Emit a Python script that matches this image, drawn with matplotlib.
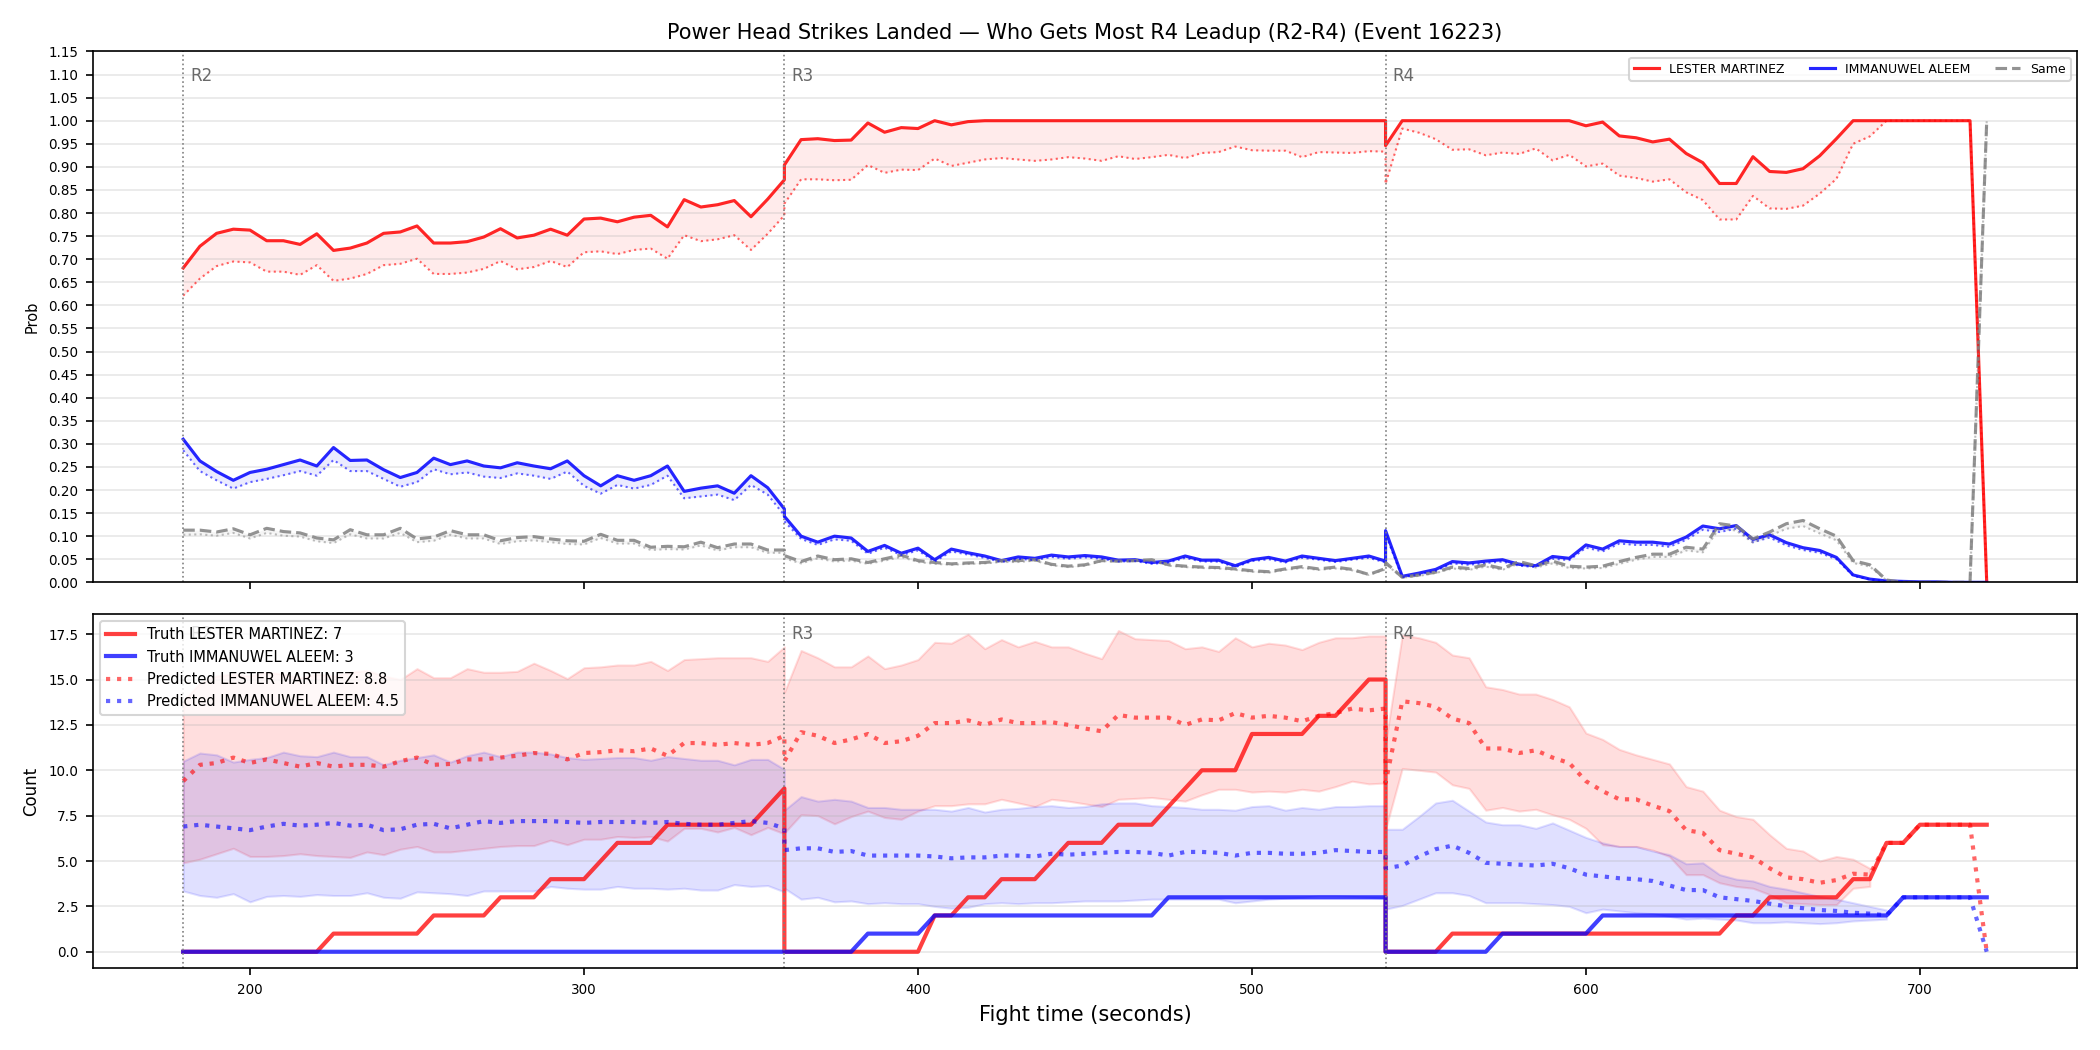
import numpy as np
import matplotlib
matplotlib.use("Agg")
import matplotlib.pyplot as plt

# sample times: each round R2..R4 sampled every 5 s, boundary time repeated
t = np.concatenate([np.arange(180, 361, 5), np.arange(360, 541, 5), np.arange(540, 721, 5)])

name_a = "LESTER MARTINEZ"
name_b = "IMMANUWEL ALEEM"
rounds = [(180, "R2"), (360, "R3"), (540, "R4")]

# --- top panel: win probability (solid) and lower estimate (dotted)
prob_a = [0.681, 0.728, 0.756, 0.765, 0.763, 0.740, 0.740, 0.732, 0.755, 0.719, 0.724, 0.735, 0.756, 0.759, 0.772, 0.735, 0.735, 0.738, 0.748, 0.766, 0.746, 0.752, 0.765, 0.752, 0.787, 0.789, 0.781, 0.791, 0.795, 0.770, 0.829, 0.813, 0.818, 0.827, 0.792, 0.830, 0.872,
          0.904, 0.959, 0.961, 0.957, 0.958, 0.995, 0.975, 0.985, 0.983, 1.0, 0.991, 0.998, 1.0, 1.0, 1.0, 1.0, 1.0, 1.0, 1.0, 1.0, 1.0, 1.0, 1.0, 1.0, 1.0, 1.0, 1.0, 1.0, 1.0, 1.0, 1.0, 1.0, 1.0, 1.0, 1.0, 1.0, 1.0,
          0.946, 1.0, 1.0, 1.0, 1.0, 1.0, 1.0, 1.0, 1.0, 1.0, 1.0, 1.0, 0.989, 0.997, 0.967, 0.963, 0.954, 0.960, 0.929, 0.909, 0.864, 0.864, 0.922, 0.890, 0.888, 0.896, 0.924, 0.961, 1.0, 1.0, 1.0, 1.0, 1.0, 1.0, 1.0, 1.0, 0.0]
prob_a_lo = [0.621, 0.658, 0.685, 0.695, 0.693, 0.673, 0.673, 0.666, 0.687, 0.653, 0.658, 0.668, 0.687, 0.690, 0.701, 0.668, 0.668, 0.671, 0.679, 0.696, 0.678, 0.683, 0.696, 0.683, 0.715, 0.717, 0.711, 0.720, 0.723, 0.701, 0.752, 0.739, 0.743, 0.752, 0.720, 0.755, 0.795,
             0.820, 0.873, 0.873, 0.871, 0.872, 0.904, 0.887, 0.894, 0.893, 0.918, 0.902, 0.909, 0.916, 0.919, 0.916, 0.913, 0.916, 0.921, 0.918, 0.913, 0.923, 0.917, 0.921, 0.926, 0.919, 0.930, 0.932, 0.944, 0.936, 0.935, 0.935, 0.921, 0.932, 0.931, 0.930, 0.934, 0.933,
             0.863, 0.983, 0.974, 0.960, 0.937, 0.938, 0.925, 0.931, 0.928, 0.940, 0.914, 0.926, 0.901, 0.907, 0.881, 0.876, 0.868, 0.873, 0.845, 0.828, 0.786, 0.786, 0.837, 0.810, 0.809, 0.816, 0.842, 0.874, 0.950, 0.966, 1.0, 1.0, 1.0, 1.0, 1.0, 1.0, 0.0]
prob_b = [0.310, 0.263, 0.240, 0.221, 0.238, 0.245, 0.255, 0.265, 0.252, 0.292, 0.264, 0.265, 0.244, 0.227, 0.238, 0.269, 0.255, 0.263, 0.252, 0.248, 0.259, 0.252, 0.246, 0.263, 0.231, 0.209, 0.231, 0.221, 0.231, 0.252, 0.197, 0.204, 0.209, 0.193, 0.231, 0.205, 0.159,
          0.143, 0.100, 0.087, 0.100, 0.096, 0.067, 0.080, 0.063, 0.074, 0.049, 0.072, 0.064, 0.057, 0.047, 0.055, 0.052, 0.059, 0.055, 0.058, 0.055, 0.048, 0.049, 0.043, 0.046, 0.057, 0.048, 0.048, 0.036, 0.049, 0.054, 0.046, 0.057, 0.052, 0.047, 0.052, 0.057, 0.046,
          0.112, 0.013, 0.020, 0.028, 0.045, 0.042, 0.046, 0.049, 0.039, 0.036, 0.056, 0.052, 0.081, 0.072, 0.090, 0.087, 0.087, 0.083, 0.098, 0.122, 0.116, 0.123, 0.093, 0.103, 0.086, 0.075, 0.069, 0.054, 0.016, 0.007, 0.003, 0.002, 0.001, 0.001, 0.0, 0.0, 0.0]
prob_b_lo = [0.286, 0.241, 0.221, 0.203, 0.217, 0.224, 0.232, 0.241, 0.231, 0.265, 0.241, 0.241, 0.224, 0.207, 0.217, 0.245, 0.234, 0.238, 0.229, 0.226, 0.236, 0.231, 0.224, 0.240, 0.209, 0.192, 0.211, 0.203, 0.211, 0.231, 0.182, 0.186, 0.190, 0.178, 0.211, 0.190, 0.145,
             0.132, 0.094, 0.081, 0.093, 0.090, 0.062, 0.075, 0.059, 0.069, 0.045, 0.067, 0.060, 0.053, 0.044, 0.051, 0.048, 0.055, 0.051, 0.054, 0.051, 0.045, 0.046, 0.040, 0.043, 0.053, 0.045, 0.045, 0.033, 0.046, 0.050, 0.043, 0.053, 0.049, 0.044, 0.049, 0.053, 0.043,
             0.104, 0.011, 0.017, 0.025, 0.041, 0.038, 0.042, 0.045, 0.036, 0.033, 0.051, 0.048, 0.075, 0.067, 0.084, 0.081, 0.081, 0.077, 0.092, 0.114, 0.109, 0.116, 0.087, 0.097, 0.080, 0.070, 0.064, 0.050, 0.014, 0.006, 0.002, 0.001, 0.0, 0.0, 0.0, 0.0, 0.0]
prob_same = [0.113, 0.113, 0.109, 0.116, 0.103, 0.117, 0.110, 0.107, 0.096, 0.092, 0.114, 0.103, 0.103, 0.117, 0.094, 0.098, 0.112, 0.103, 0.103, 0.090, 0.097, 0.099, 0.094, 0.090, 0.089, 0.104, 0.091, 0.091, 0.076, 0.078, 0.077, 0.087, 0.075, 0.083, 0.083, 0.070, 0.070,
             0.058, 0.045, 0.057, 0.049, 0.051, 0.043, 0.051, 0.059, 0.047, 0.043, 0.040, 0.042, 0.043, 0.047, 0.047, 0.049, 0.039, 0.035, 0.038, 0.047, 0.046, 0.047, 0.049, 0.038, 0.035, 0.033, 0.032, 0.029, 0.025, 0.023, 0.029, 0.034, 0.029, 0.033, 0.028, 0.017, 0.030,
             0.043, 0.011, 0.016, 0.022, 0.033, 0.030, 0.038, 0.030, 0.045, 0.036, 0.046, 0.035, 0.033, 0.035, 0.045, 0.054, 0.061, 0.061, 0.076, 0.072, 0.127, 0.122, 0.094, 0.109, 0.127, 0.134, 0.116, 0.100, 0.047, 0.038, 0.005, 0.0, 0.0, 0.0, 0.0, 0.0, 1.0]
prob_same_lo = [0.103, 0.104, 0.101, 0.107, 0.095, 0.107, 0.101, 0.099, 0.089, 0.085, 0.104, 0.095, 0.095, 0.107, 0.087, 0.090, 0.103, 0.095, 0.095, 0.083, 0.089, 0.091, 0.087, 0.083, 0.082, 0.096, 0.084, 0.084, 0.070, 0.072, 0.071, 0.080, 0.069, 0.076, 0.076, 0.064, 0.064,
                0.052, 0.041, 0.052, 0.045, 0.047, 0.040, 0.047, 0.055, 0.044, 0.040, 0.038, 0.040, 0.041, 0.044, 0.044, 0.047, 0.037, 0.033, 0.036, 0.046, 0.045, 0.046, 0.047, 0.036, 0.033, 0.031, 0.030, 0.027, 0.023, 0.021, 0.027, 0.031, 0.027, 0.030, 0.026, 0.016, 0.028,
                0.040, 0.010, 0.014, 0.020, 0.030, 0.027, 0.034, 0.027, 0.041, 0.032, 0.041, 0.031, 0.030, 0.031, 0.040, 0.049, 0.055, 0.055, 0.069, 0.065, 0.118, 0.112, 0.086, 0.101, 0.116, 0.122, 0.106, 0.091, 0.042, 0.034, 0.004, 0.0, 0.0, 0.0, 0.0, 0.0, 1.0]

# --- bottom panel: cumulative counts, predicted totals and bands
truth_a = [0, 0, 0, 0, 0, 0, 0, 0, 0, 1, 1, 1, 1, 1, 1, 2, 2, 2, 2, 3, 3, 3, 4, 4, 4, 5, 6, 6, 6, 7, 7, 7, 7, 7, 7, 8, 9,
           0, 0, 0, 0, 0, 0, 0, 0, 0, 2, 2, 3, 3, 4, 4, 4, 5, 6, 6, 6, 7, 7, 7, 8, 9, 10, 10, 10, 12, 12, 12, 12, 13, 13, 14, 15, 15,
           0, 0, 0, 0, 1, 1, 1, 1, 1, 1, 1, 1, 1, 1, 1, 1, 1, 1, 1, 1, 1, 2, 2, 3, 3, 3, 3, 3, 4, 4, 6, 6, 7, 7, 7, 7, 7]
truth_b = [0] * 37 + \
          [0, 0, 0, 0, 0, 1, 1, 1, 1, 2, 2, 2, 2, 2, 2, 2, 2, 2, 2, 2, 2, 2, 2, 3, 3, 3, 3, 3, 3, 3, 3, 3, 3, 3, 3, 3, 3] + \
          [0, 0, 0, 0, 0, 0, 0, 1, 1, 1, 1, 1, 1, 2, 2, 2, 2, 2, 2, 2, 2, 2, 2, 2, 2, 2, 2, 2, 2, 2, 2, 3, 3, 3, 3, 3, 3]
pred_a = [9.4, 10.3, 10.4, 10.7, 10.4, 10.6, 10.4, 10.2, 10.4, 10.2, 10.3, 10.3, 10.2, 10.5, 10.7, 10.3, 10.35, 10.6, 10.6, 10.7, 10.8, 10.95, 10.9, 10.6, 10.95, 11.0, 11.1, 11.05, 11.2, 10.8, 11.5, 11.5, 11.4, 11.5, 11.4, 11.5, 11.9,
          10.5, 12.1, 11.9, 11.5, 11.7, 12.0, 11.5, 11.6, 11.9, 12.6, 12.6, 12.75, 12.5, 12.8, 12.6, 12.6, 12.65, 12.5, 12.3, 12.15, 13.05, 12.9, 12.9, 12.9, 12.5, 12.8, 12.75, 13.15, 12.9, 13.0, 12.9, 12.7, 13.0, 13.15, 13.4, 13.3, 13.4,
          9.3, 13.8, 13.7, 13.5, 12.85, 12.6, 11.2, 11.2, 10.95, 11.1, 10.7, 10.4, 9.4, 8.85, 8.4, 8.4, 8.05, 7.75, 6.7, 6.55, 5.6, 5.4, 5.2, 4.6, 4.1, 4.0, 3.8, 3.95, 4.3, 4.25, 6, 6, 7, 7, 7, 7, 0]
pred_b = [6.9, 7.0, 6.9, 6.8, 6.7, 6.9, 7.05, 6.95, 7.0, 7.1, 6.95, 7.0, 6.7, 6.75, 7.0, 7.05, 6.8, 7.0, 7.2, 7.1, 7.2, 7.2, 7.2, 7.15, 7.1, 7.15, 7.15, 7.15, 7.1, 7.15, 7.05, 7.0, 7.0, 7.1, 7.2, 7.1, 6.8,
          5.6, 5.7, 5.7, 5.5, 5.55, 5.3, 5.3, 5.3, 5.3, 5.25, 5.15, 5.2, 5.2, 5.3, 5.3, 5.25, 5.4, 5.35, 5.4, 5.45, 5.5, 5.5, 5.45, 5.3, 5.5, 5.5, 5.45, 5.3, 5.45, 5.45, 5.4, 5.4, 5.45, 5.6, 5.55, 5.5, 5.5,
          4.6, 4.75, 5.25, 5.65, 5.85, 5.45, 4.9, 4.85, 4.8, 4.75, 4.85, 4.6, 4.25, 4.15, 4.05, 4.0, 3.9, 3.65, 3.4, 3.4, 3.0, 2.9, 2.8, 2.65, 2.5, 2.4, 2.3, 2.25, 2.15, 2.1, 2.0, 3, 3, 3, 3, 3, 0]
nan = np.nan
band_a_hi = [13.8, 14.8, 15.2, 15.3, 15.2, 15.4, 15.3, 15.1, 15.3, 15.2, 15.4, 15.5, 15.2, 15.0, 15.6, 15.1, 15.1, 15.6, 15.4, 15.4, 15.45, 15.9, 15.5, 15.05, 15.65, 15.7, 15.8, 15.8, 16.0, 15.5, 16.1, 16.15, 16.2, 16.2, 16.2, 16.0, 16.8,
             14.3, 16.6, 16.2, 15.7, 15.7, 16.3, 15.6, 15.8, 16.1, 17.05, 17.0, 17.5, 16.7, 17.2, 16.8, 17.1, 16.8, 16.8, 16.45, 16.15, 17.7, 17.25, 17.2, 17.15, 16.7, 16.8, 16.55, 17.3, 16.8, 17.0, 16.9, 16.65, 17.05, 17.3, 17.3, 17.4, 17.4,
             11.5, 17.45, 17.3, 17.05, 16.35, 16.2, 14.6, 14.45, 14.2, 14.2, 13.9, 13.5, 12.05, 11.7, 11.15, 10.85, 10.6, 10.35, 9.1, 8.85, 7.8, 7.45, 7.3, 6.45, 5.7, 5.55, 5.0, 5.25, 5.1, 4.6, nan, nan, nan, nan, nan, nan, nan]
band_a_lo = [4.9, 5.1, 5.4, 5.7, 5.25, 5.25, 5.3, 5.4, 5.3, 5.25, 5.2, 5.5, 5.35, 5.65, 5.8, 5.5, 5.5, 5.6, 5.7, 5.8, 5.85, 5.85, 6.15, 5.9, 6.2, 6.2, 6.35, 6.3, 6.35, 6.1, 6.8, 6.8, 6.6, 6.85, 6.45, 6.85, 6.5,
             6.55, 7.55, 7.5, 7.05, 7.45, 7.75, 7.4, 7.3, 7.75, 8.05, 8.05, 8.15, 8.15, 8.4, 8.2, 8.0, 8.4, 8.3, 8.15, 8.0, 8.4, 8.45, 8.5, 8.4, 8.3, 8.65, 8.95, 8.95, 8.8, 8.85, 8.8, 8.95, 8.85, 9.1, 9.4, 9.25, 9.3,
             6.75, 10.1, 10.0, 9.9, 9.2, 9.0, 7.8, 7.95, 7.75, 7.85, 7.55, 7.3, 6.8, 5.9, 5.8, 5.8, 5.6, 5.25, 4.25, 4.25, 3.8, 3.6, 3.5, 3.15, 2.7, 2.65, 2.6, 2.6, 3.5, 3.6, nan, nan, nan, nan, nan, nan, nan]
band_b_hi = [10.5, 10.95, 10.85, 10.45, 10.6, 10.7, 11.0, 10.8, 10.75, 11.0, 10.75, 10.75, 10.3, 10.55, 10.7, 10.85, 10.45, 10.8, 11.0, 10.75, 11.0, 11.0, 10.9, 10.7, 10.6, 10.65, 10.7, 10.7, 10.55, 10.75, 10.65, 10.55, 10.55, 10.3, 10.6, 10.6, 10.05,
             7.8, 8.55, 8.3, 8.4, 8.3, 7.95, 7.95, 7.85, 7.85, 7.85, 7.75, 7.95, 7.7, 7.85, 7.9, 8.0, 8.05, 7.95, 8.0, 8.15, 8.2, 8.2, 8.05, 8.0, 7.95, 7.85, 7.85, 7.8, 8.0, 8.05, 7.8, 7.95, 7.85, 8.0, 8.0, 8.05, 8.05,
             6.75, 6.75, 7.45, 8.2, 8.35, 7.75, 7.15, 7.0, 7.0, 6.8, 7.1, 6.7, 6.3, 6.0, 5.8, 5.8, 5.55, 5.35, 4.85, 4.9, 4.25, 4.0, 3.9, 3.6, 3.45, 3.25, 3.05, 2.9, 2.7, 2.5, 2.3, nan, nan, nan, nan, nan, nan]
band_b_lo = [3.35, 3.1, 3.0, 3.2, 2.75, 3.05, 3.1, 3.05, 3.15, 3.1, 3.1, 3.25, 3.0, 2.95, 3.3, 3.25, 3.2, 3.1, 3.35, 3.35, 3.35, 3.35, 3.6, 3.5, 3.45, 3.45, 3.6, 3.5, 3.5, 3.45, 3.5, 3.4, 3.4, 3.7, 3.6, 3.65, 3.3,
             3.5, 2.9, 3.0, 2.75, 2.8, 2.65, 2.7, 2.65, 2.65, 2.5, 2.4, 2.45, 2.65, 2.7, 2.65, 2.7, 2.7, 2.75, 2.8, 2.8, 2.8, 2.85, 2.9, 2.9, 2.9, 2.9, 2.9, 2.7, 2.8, 2.9, 2.95, 3.0, 3.1, 3.1, 3.05, 3.0, 2.95,
             2.35, 2.55, 2.9, 3.25, 3.25, 3.1, 2.7, 2.7, 2.7, 2.65, 2.6, 2.5, 2.15, 2.35, 2.25, 2.15, 2.1, 1.95, 1.8, 1.85, 1.8, 1.75, 1.6, 1.6, 1.65, 1.6, 1.55, 1.6, 1.7, 1.75, 1.8, nan, nan, nan, nan, nan, nan]

final_a, final_b = 7, 3
pred_final_a, pred_final_b = 8.8, 4.5

fig, (ax1, ax2) = plt.subplots(2, 1, figsize=(14, 7), dpi=150, sharex=True,
                               gridspec_kw={"height_ratios": [3, 2]})
fig.subplots_adjust(left=0.0443, right=0.989, top=0.951, bottom=0.078, hspace=0.072)

# top panel
ax1.fill_between(t, prob_a_lo, prob_a, color="red", alpha=0.08, lw=0)
ax1.fill_between(t, prob_b_lo, prob_b, color="blue", alpha=0.08, lw=0)
ax1.fill_between(t, prob_same_lo, prob_same, color="gray", alpha=0.08, lw=0)
ax1.plot(t, prob_a, color="red", lw=1.5, alpha=0.85, label=name_a)
ax1.plot(t, prob_b, color="blue", lw=1.5, alpha=0.85, label=name_b)
ax1.plot(t, prob_same, color="gray", lw=1.5, ls="--", alpha=0.85, label="Same")
ax1.plot(t, prob_a_lo, color="red", lw=1, ls=":", alpha=0.6)
ax1.plot(t, prob_b_lo, color="blue", lw=1, ls=":", alpha=0.6)
ax1.plot(t, prob_same_lo, color="gray", lw=1, ls=":", alpha=0.5)
ax1.set_ylim(0, 1.15)
ax1.set_yticks(np.arange(0, 1.151, 0.05))
ax1.set_ylabel("Prob", fontsize=7)
ax1.set_title("Power Head Strikes Landed \u2014 Who Gets Most R4 Leadup (R2-R4) (Event 16223)", fontsize=10)
ax1.legend(loc="upper right", fontsize=6, ncol=3)

# bottom panel
ax2.fill_between(t, band_a_lo, band_a_hi, color="red", alpha=0.13)
ax2.fill_between(t, band_b_lo, band_b_hi, color="blue", alpha=0.12)
ax2.plot(t, truth_a, color="red", lw=2, alpha=0.75, label=f"Truth {name_a}: {final_a}")
ax2.plot(t, truth_b, color="blue", lw=2, alpha=0.75, label=f"Truth {name_b}: {final_b}")
ax2.plot(t, pred_a, color="red", lw=2, ls=":", alpha=0.6, label=f"Predicted {name_a}: {pred_final_a}")
ax2.plot(t, pred_b, color="blue", lw=2, ls=":", alpha=0.6, label=f"Predicted {name_b}: {pred_final_b}")
ax2.set_ylim(-0.9, 18.6)
ax2.set_ylabel("Count", fontsize=8)
ax2.set_xlabel("Fight time (seconds)", fontsize=10)
ax2.legend(loc="upper left", fontsize=7)

for ax in (ax1, ax2):
    ax.grid(axis="y", alpha=0.3)
    ax.tick_params(labelsize=6.5)
    for x, lab in rounds:
        ax.axvline(x, color="gray", ls=":", lw=0.8)
        ax.text(x + 2, 0.97, lab, transform=ax.get_xaxis_transform(), va="top",
                fontsize=8, color="dimgray")

plt.savefig("out.png")
